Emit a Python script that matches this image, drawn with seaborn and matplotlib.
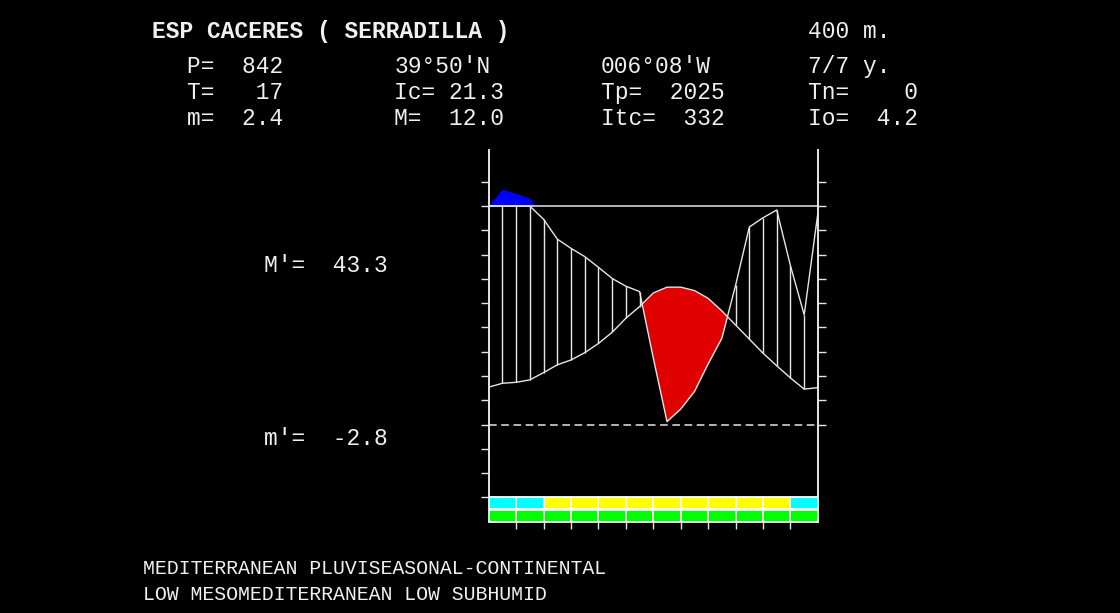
import numpy as np
import matplotlib
matplotlib.use("Agg")
import matplotlib.pyplot as plt
import seaborn as sns

# Climate diagram for Serradilla (Caceres): values at half-month steps, Jan..Dec
# temperature in degC, precipitation as P/2 so both share the same scale
temperature = [7.7, 8.5, 8.7, 9.2, 10.7, 12.3, 13.3, 14.8, 16.7, 19.0, 21.9, 24.3,
               27.1, 28.3, 28.3, 27.6, 26.0, 23.4, 20.5, 17.6, 14.7, 12.1, 9.6, 7.3, 7.6]
precip_half = [45.2, 48.5, 47.6, 46.6, 42.3, 38.2, 36.3, 34.6, 32.4, 30.1, 28.5, 27.4,
               13.7, 0.6, 3.2, 6.8, 12.5, 17.8, 28.7, 40.7, 42.6, 44.2, 32.7, 22.6, 43.6]
months = ["Jan", "Feb", "Mar", "Apr", "May", "Jun",
          "Jul", "Aug", "Sep", "Oct", "Nov", "Dec"]
upper_line = 45.0
abs_line = 0.0

# monthly bands below the diagram
band_upper = ["cold", "cold", "warm", "warm", "warm", "warm",
              "warm", "warm", "warm", "warm", "warm", "cold"]
band_lower = ["active"] * 12
band_colors = {"cold": "#00ffff", "warm": "#ffff00", "active": "#00ff00"}

header_rows = [
    ["P=  842", "39°50'N", "006°08'W", "7/7 y."],
    ["T=   17", "Ic= 21.3", "Tp=  2025", "Tn=    0"],
    ["m=  2.4", "M=  12.0", "Itc=  332", "Io=  4.2"],
]
title = "ESP CACERES ( SERRADILLA )"
altitude = "400 m."
m_max = "M'=  43.3"
m_min = "m'=  -2.8"
footer = ["MEDITERRANEAN PLUVISEASONAL-CONTINENTAL",
          "LOW MESOMEDITERRANEAN LOW SUBHUMID"]

sns.set_theme(style="dark")
plt.rcParams["font.family"] = ["Liberation Mono", "DejaVu Sans Mono"]

W, H = 1120, 613
fig = plt.figure(figsize=(W / 100, H / 100), dpi=100, facecolor="black")
ax = fig.add_axes([488.7 / W, 1 - 521.6 / H, 329.2 / W, 371.3 / H])
ax.set_facecolor("black")
ax.grid(False)

fg = "#e6e6e6"
x = np.arange(len(temperature)) / 2.0
T = np.array(temperature)
P = np.array(precip_half)
P_clip = np.minimum(P, upper_line)

# wet surplus above the upper line
ax.fill_between(x, upper_line, P, where=P > upper_line, interpolate=True,
                color="#0000ff", linewidth=0, zorder=2)
# dry period
ax.fill_between(x, P, T, where=T > P, interpolate=True,
                color="#e00000", linewidth=0, zorder=2)
# humid period hatching
wet = (P > T)
wet[0] = wet[-1] = False
ax.vlines(x[wet], T[wet], P_clip[wet], color=fg, linewidth=1.0, zorder=3)

ax.hlines(upper_line, 0, 12, color=fg, linewidth=1.1, zorder=3)
ax.hlines(abs_line, 0, 12, color=fg, linewidth=1.1, linestyles=(0, (5, 3)), zorder=3)

sns.lineplot(x=x, y=T, color=fg, linewidth=1.0, ax=ax, zorder=4)
sns.lineplot(x=x, y=P_clip, color=fg, linewidth=1.0, ax=ax, zorder=4)

# monthly bands
centers = np.arange(len(months)) + 0.5
ax.bar(centers, 2.45, bottom=-17.45, width=1.0,
       color=[band_colors[b] for b in band_upper], edgecolor="white", linewidth=1.3, zorder=3)
ax.bar(centers, 2.45, bottom=-20.0, width=1.0,
       color=[band_colors[b] for b in band_lower], edgecolor="white", linewidth=1.3, zorder=3)

ax.set_xlim(0, 12)
ax.set_ylim(-20, 56.5)
ax.set_xticks(np.arange(1, 12))
ax.set_xticklabels([])
ax.set_yticks(np.arange(-15, 51, 5))
ax.set_yticklabels([])
ax.set_xlabel("")
ax.set_ylabel("")
ax.tick_params(axis="y", direction="out", length=5.8, width=1.0, color=fg, left=True)
ax.tick_params(axis="x", direction="out", length=4.8, width=1.0, color=fg, bottom=True)
for side in ["left", "right", "bottom"]:
    ax.spines[side].set_visible(True)
    ax.spines[side].set_color(fg)
    ax.spines[side].set_linewidth(1.4)
ax.spines["top"].set_visible(False)

ax2 = ax.twinx()
ax2.set_ylim(ax.get_ylim())
ax2.set_yticks(np.arange(0, 51, 5))
ax2.set_yticklabels([])
ax2.grid(False)
ax2.tick_params(axis="y", direction="out", length=5.8, width=1.0, color=fg, right=True)
for side in ["left", "right", "bottom", "top"]:
    ax2.spines[side].set_visible(False)


def put(px, py, s, size=16.5, weight="normal"):
    fig.text(px / W, 1 - py / H, s, color="#f0f0f0", fontsize=size,
             fontweight=weight, ha="left", va="baseline")


put(152, 38.3, title, weight="bold")
put(808, 38.3, altitude)
cols = [186.7, 394.3, 600.7, 807.7]
for row, base in zip(header_rows, [73.3, 99.3, 125.0]):
    for cx, s in zip(cols, row):
        put(cx, base, s)
put(264, 271.7, m_max)
put(264, 445.0, m_min)
put(143.3, 574.0, footer[0], size=14.3)
put(143.3, 600.0, footer[1], size=14.3)

fig.savefig("out.png", dpi=100, facecolor="black")
